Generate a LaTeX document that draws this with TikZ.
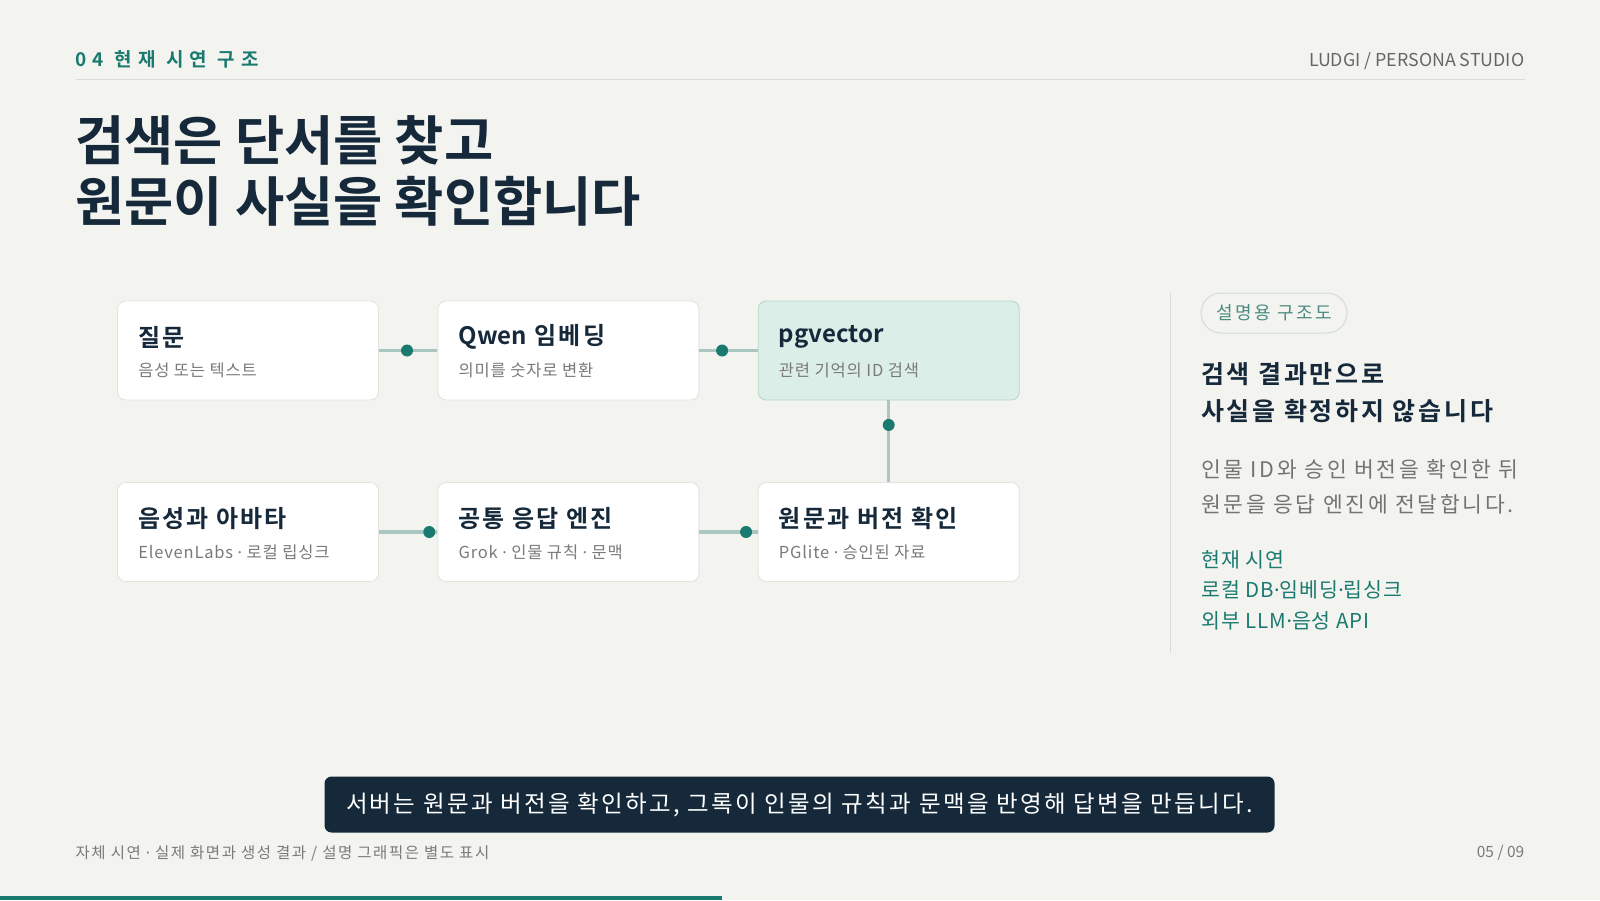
\documentclass[tikz,border=0pt]{standalone}
\usepackage{fontspec}
\setmainfont{Noto Sans CJK KR}[BoldFont={Noto Sans CJK KR Bold}]
\newfontfamily\hdrfont{Noto Sans CJK KR Bold}[LetterSpace=32]
\newfontfamily\latinf{Noto Sans}
\newcommand\md{{\latinf ·}}
\newcommand\lsp[1]{\addfontfeature{LetterSpace=#1}}
\newcommand\nols[1]{{\addfontfeature{LetterSpace=0}#1}}
\usetikzlibrary{calc}
\definecolor{bgc}{HTML}{F3F3EF}
\definecolor{navy}{HTML}{15293A}
\definecolor{tealc}{HTML}{1B7A70}
\definecolor{subgray}{HTML}{7A7A7A}
\definecolor{rulegray}{HTML}{DCDCD7}
\definecolor{connc}{HTML}{A9C7C0}
\definecolor{boxline}{HTML}{E3E3DF}
\definecolor{mintfill}{HTML}{DCEEE8}
\definecolor{mintline}{HTML}{B7D6CC}
\definecolor{pillline}{HTML}{CFDDD8}
\definecolor{pilltext}{HTML}{4A8A80}
\definecolor{bodygray}{HTML}{737373}
\definecolor{hdrgray}{HTML}{666666}
\begin{document}
\begin{tikzpicture}[x=1pt,y=-1pt,
  box/.style={draw=boxline, fill=white, line width=0.9pt, rounded corners=8pt, minimum width=261pt, minimum height=99pt, inner sep=0pt},
  hotbox/.style={box, fill=mintfill, draw=mintline},
  btitle/.style={anchor=west, inner sep=0pt, font=\fontsize{24}{24}\selectfont\bfseries\lsp{9}, text=navy},
  bsub/.style={anchor=west, inner sep=0pt, font=\fontsize{16.5}{16.5}\selectfont\lsp{5}, text=subgray},
  conn/.style={draw=connc, line width=3.5pt},
  dotn/.style={circle, fill=tealc, minimum size=12pt, inner sep=0pt},
  plain/.style={inner sep=0pt},
]
\useasboundingbox (0,0) rectangle (1600,900);
\fill[bgc] (0,0) rectangle (1600,900);

% header
\node[plain, anchor=west, text=tealc, font=\hdrfont\fontsize{19}{19}\selectfont] (hdr) at (75.5,59) {04 현재 시연 구조};
\node[plain, anchor=east, text=hdrgray, font=\fontsize{17.8}{17.8}\selectfont] (brand) at (1524.5,61) {LUDGI / PERSONA STUDIO};
\coordinate (rl) at (75.5,79.6);
\coordinate (rr) at (1524.5,79.6);
\draw[rulegray, line width=1pt] (rl) -- (rr);

% title
\node[plain, anchor=west, text=navy, font=\fontsize{53.5}{53.5}\selectfont\bfseries] (ti1) at (75,140) {검색은 단서를 찾고};
\node[plain, anchor=west, text=navy, font=\fontsize{53.5}{53.5}\selectfont\bfseries] (ti2) at (75,201) {원문이 사실을 확인합니다};

% boxes
\node[box] (b1) at (248,350.5) {};
\node[box] (b2) at (568.4,350.5) {};
\node[hotbox] (b3) at (888.7,350.5) {};
\node[box] (b4) at (248,532) {};
\node[box] (b5) at (568.4,532) {};
\node[box] (b6) at (888.7,532) {};

\node[btitle] (t1) at ($(b1.west)+(21,-13.5)$) {질문};
\node[bsub]   (s1) at ($(b1.west)+(21,20)$) {음성 또는 텍스트};
\node[btitle] (t2) at ($(b2.west)+(21,-13.5)$) {\nols{Qwen} 임베딩};
\node[bsub]   (s2) at ($(b2.west)+(21,20)$) {의미를 숫자로 변환};
\node[btitle] (t3) at ($(b3.west)+(21,-13.5)$) {\nols{pgvector}};
\node[bsub]   (s3) at ($(b3.west)+(21,20)$) {관련 기억의 ID 검색};
\node[btitle] (t4) at ($(b4.west)+(21,-13.5)$) {음성과 아바타};
\node[bsub]   (s4) at ($(b4.west)+(21,20)$) {ElevenLabs \md{} 로컬 립싱크};
\node[btitle] (t5) at ($(b5.west)+(21,-13.5)$) {공통 응답 엔진};
\node[bsub]   (s5) at ($(b5.west)+(21,20)$) {Grok \md{} 인물 규칙 \md{} 문맥};
\node[btitle] (t6) at ($(b6.west)+(21,-13.5)$) {원문과 버전 확인};
\node[bsub]   (s6) at ($(b6.west)+(21,20)$) {PGlite \md{} 승인된 자료};

% connectors
\draw[conn] (b1.east) -- node[dotn, pos=0.48] (d1) {} (b2.west);
\draw[conn] (b2.east) -- node[dotn, pos=0.39] (d2) {} (b3.west);
\draw[conn] (b3.south) -- node[dotn, pos=0.30] (d3) {} (b6.north);
\draw[conn] (b6.west) -- node[dotn, pos=0.20] (d4) {} (b5.east);
\draw[conn] (b5.west) -- node[dotn, pos=0.14] (d5) {} (b4.east);

% right panel
\coordinate (vt) at (1170,293);
\coordinate (vb) at (1170,653);
\draw[rulegray, line width=1pt] (vt) -- (vb);
\node[draw=pillline, line width=1pt, rounded corners=20pt, minimum width=146pt, minimum height=40pt, inner sep=0pt, text=pilltext, font=\fontsize{18}{18}\selectfont\lsp{13}] (pill) at (1274,313) {설명용 구조도};
\node[plain, anchor=west, text=navy, font=\fontsize{25}{25}\selectfont\bfseries\lsp{11}] (h1) at (1201,374) {검색 결과만으로};
\node[plain, anchor=west, text=navy, font=\fontsize{25}{25}\selectfont\bfseries\lsp{11}] (h2) at (1201,411.5) {사실을 확정하지 않습니다};
\node[plain, anchor=west, text=bodygray, font=\fontsize{21.5}{21.5}\selectfont\lsp{12.5}] (p1) at (1201,469.5) {인물 ID와 승인 버전을 확인한 뒤};
\node[plain, anchor=west, text=bodygray, font=\fontsize{21.5}{21.5}\selectfont\lsp{12.5}] (p2) at (1201,504.5) {원문을 응답 엔진에 전달합니다.};
\node[plain, anchor=west, text=tealc, font=\fontsize{20.5}{20.5}\selectfont\lsp{5}] (g1) at (1201,559.5) {현재 시연};
\node[plain, anchor=west, text=tealc, font=\fontsize{20.5}{20.5}\selectfont\lsp{5}] (g2) at (1201,590) {로컬 DB\md{}임베딩\md{}립싱크};
\node[plain, anchor=west, text=tealc, font=\fontsize{20.5}{20.5}\selectfont\lsp{5}] (g3) at (1201,620.5) {외부 LLM\md{}음성 API};

% caption
\node[fill=navy, rounded corners=7pt, minimum width=950pt, minimum height=56pt, inner sep=0pt, text=white, font=\fontsize{23.5}{23.5}\selectfont\lsp{10}] (cap) at (799.5,804.5) {서버는 원문과 버전을 확인하고, 그록이 인물의 규칙과 문맥을 반영해 답변을 만듭니다.};

% footer
\node[plain, anchor=west, text=subgray, font=\fontsize{15.5}{15.5}\selectfont\lsp{10}] (f1) at (75.5,853) {자체 시연 \md{} 실제 화면과 생성 결과 / 설명 그래픽은 별도 표시};
\node[plain, anchor=east, text=subgray, font=\fontsize{15.5}{15.5}\selectfont] (f2) at (1524.5,853) {05 / 09};
\fill[tealc] (0,895.5) rectangle (722,900);
\end{tikzpicture}
\end{document}
